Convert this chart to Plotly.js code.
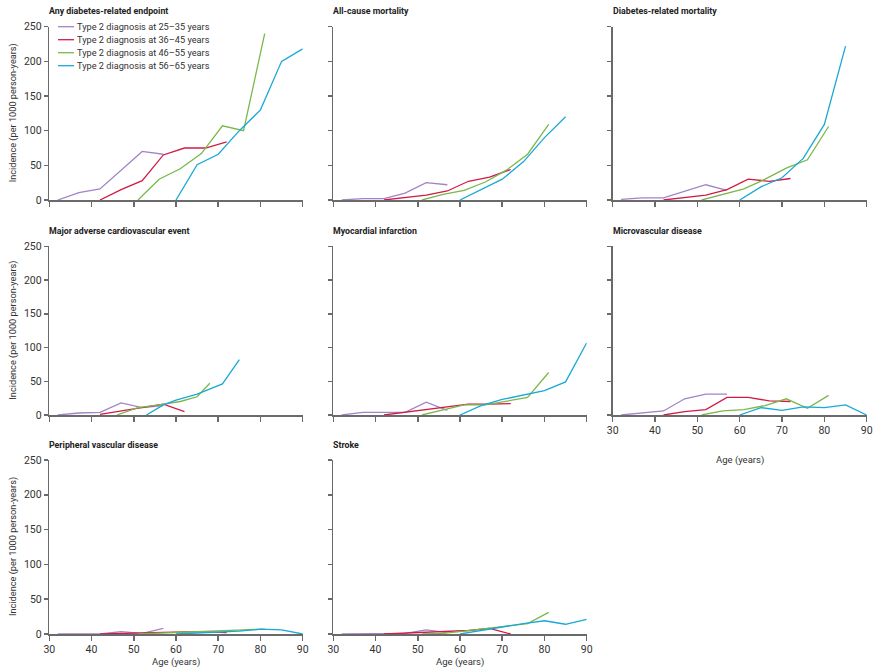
<!DOCTYPE html>
<html>
<head>
<meta charset="utf-8">
<script src="https://cdn.plot.ly/plotly-3.0.1.min.js"></script>
<style>
  html, body { margin: 0; padding: 0; background: #fff; }
  #chart { width: 876px; height: 672px; }
</style>
</head>
<body>
<div id="chart"></div>
<script>
// ---------- Data ----------
const panelTitles = [
  "Any diabetes-related endpoint", "All-cause mortality", "Diabetes-related mortality",
  "Major adverse cardiovascular event", "Myocardial infarction", "Microvascular disease",
  "Peripheral vascular disease", "Stroke"
];
const seriesNames = [
  "Type 2 diagnosis at 25–35 years",
  "Type 2 diagnosis at 36–45 years",
  "Type 2 diagnosis at 46–55 years",
  "Type 2 diagnosis at 56–65 years"
];
const seriesColors = ["#a283c8", "#d01c45", "#7ab84a", "#1aa8d6"];

// ages (years) at which each group's incidence is plotted
const ages2535 = [32, 37, 42, 47, 52, 57];
const ages3645 = [42, 47, 52, 57, 62, 67, 72];
const ages4655 = [51, 56, 61, 66, 71, 76, 81];
const ages5665 = [60, 65, 70, 75, 80, 85, 90];
// MACE panel ages differ
const maceAges3645 = [42, 47, 52, 57, 62];
const maceAges4655 = [46, 51, 56, 61, 65, 68];
const maceAges5665 = [53, 57, 60, 65, 71, 75];

// incidence per 1000 person-years
const anyP = [0, 10.5, 16, 43, 70, 66];
const anyR = [0, 15, 28, 65, 75, 75, 84];
const anyG = [0, 30, 45, 67, 107, 100, 240];
const anyC = [0, 51, 66, 100, 130, 200, 218];

const allP = [0, 2, 2, 10, 25, 22];
const allR = [0, 3, 7, 13, 27, 33, 44];
const allG = [0, 8, 14, 26, 43, 66, 109];
const allC = [0, 15, 30, 55, 90, 120];

const dmP = [1, 3, 3, 12, 22, 14];
const dmR = [0, 4, 7, 15, 30, 27, 31];
const dmG = [0, 8, 16, 30, 46, 58, 106];
const dmC = [0, 19, 32, 60, 109, 222];

const maceP = [0, 3, 4, 18, 11, 14];
const maceR = [1, 6, 11, 16, 5];
const maceG = [0, 11, 15, 20, 27, 47];
const maceC = [0, 15, 22, 31, 46, 82];

const miP = [0, 4, 4, 4, 19, 7];
const miR = [0, 4, 8, 12, 16, 16, 17];
const miG = [0, 8, 15, 15, 20, 26, 63];
const miC = [0, 14, 23, 30, 36, 49, 107];

const mvP = [0, 3, 6, 24, 31, 31];
const mvR = [0, 5, 8, 26, 26, 21, 20];
const mvG = [0, 6, 8, 14, 24, 10, 29];
const mvC = [0, 11, 7, 12, 11, 15, 0];

const pvdP = [0, 0, 0, 3.5, 1, 8];
const pvdR = [0, 1, 2, 3, 3, 3, 2];
const pvdG = [0, 1, 2, 3, 5, 6, 7];
const pvdC = [0, 1, 2, 4, 7, 6, 0];

const strP = [0, 0, 0, 1, 6, 2];
const strR = [0, 1, 2, 4, 5, 8, 0];
const strG = [0, 1, 4, 8, 12, 15, 31];
const strC = [0, 5, 11, 15, 19, 14, 21];

const xTicks = [30, 40, 50, 60, 70, 80, 90];
const yTicks = [0, 50, 100, 150, 200, 250];

const panelSeries = [
  [[ages2535, anyP], [ages3645, anyR], [ages4655, anyG], [ages5665, anyC]],
  [[ages2535, allP], [ages3645, allR], [ages4655, allG], [ages5665, allC]],
  [[ages2535, dmP], [ages3645, dmR], [ages4655, dmG], [ages5665, dmC]],
  [[ages2535, maceP], [maceAges3645, maceR], [maceAges4655, maceG], [maceAges5665, maceC]],
  [[ages2535, miP], [ages3645, miR], [ages4655, miG], [ages5665, miC]],
  [[ages2535, mvP], [ages3645, mvR], [ages4655, mvG], [ages5665, mvC]],
  [[ages2535, pvdP], [ages3645, pvdR], [ages4655, pvdG], [ages5665, pvdC]],
  [[ages2535, strP], [ages3645, strR], [ages4655, strG], [ages5665, strC]]
];

// ---------- Layout geometry (pixels) ----------
const W = 876, H = 672;
const colPx = [[49.3, 302.7], [333.3, 586.7], [612.7, 866.7]];
const rowPx = [[26.7, 200], [246.3, 415], [460, 634]];
const FONT = "'Liberation Sans Narrow', 'Roboto', sans-serif";
const TXT = "#333";
const AXC = "#6a6a6a";

const traces = [];
const layout = {
  width: W, height: H,
  margin: {l: 0, r: 0, t: 0, b: 0},
  paper_bgcolor: "#fff", plot_bgcolor: "#fff",
  showlegend: false,
  font: {family: FONT, size: 10, color: TXT},
  annotations: [], shapes: []
};

const showXLabels = [false, false, false, false, false, true, true, true];
const xTitleY = {1: 460, 2: 662};

panelSeries.forEach((series, i) => {
  const r = Math.floor(i / 3), c = i % 3;
  const n = i + 1;
  const xa = "xaxis" + (n === 1 ? "" : n), ya = "yaxis" + (n === 1 ? "" : n);
  const xr = "x" + (n === 1 ? "" : n), yr = "y" + (n === 1 ? "" : n);
  series.forEach((s, k) => {
    traces.push({
      type: "scatter", mode: "lines",
      x: s[0].slice(0, s[1].length), y: s[1],
      xaxis: xr, yaxis: yr,
      line: {color: seriesColors[k], width: 1.3},
      name: seriesNames[k], hoverinfo: "skip"
    });
  });
  layout[xa] = {
    domain: [colPx[c][0] / W, colPx[c][1] / W],
    range: [30, 90], tickvals: xTicks, ticktext: xTicks.map(String),
    showticklabels: showXLabels[i],
    showgrid: false, zeroline: false,
    showline: true, linecolor: AXC, linewidth: 1.5,
    ticks: "outside", ticklen: 5, tickwidth: 1.5, tickcolor: AXC,
    tickfont: {family: FONT, size: 10.5, color: TXT},
    anchor: yr, fixedrange: true
  };
  layout[ya] = {
    domain: [1 - rowPx[r][1] / H, 1 - rowPx[r][0] / H],
    range: [0, 250], tickvals: yTicks, ticktext: yTicks.map(String),
    showticklabels: c === 0,
    showgrid: false, zeroline: false,
    showline: true, linecolor: AXC, linewidth: 1.5,
    ticks: "outside", ticklen: 4, tickwidth: 1.5, tickcolor: AXC,
    tickfont: {family: FONT, size: 10.5, color: TXT},
    anchor: xr, fixedrange: true
  };
  // panel title
  layout.annotations.push({
    xref: "paper", yref: "paper",
    x: (colPx[c][0] - 2) / W, y: 1 - (rowPx[r][0] - 15.5) / H,
    xanchor: "left", yanchor: "middle", showarrow: false,
    text: "<b>" + panelTitles[i] + "</b>",
    font: {family: FONT, size: 8.8, color: "#222"}
  });
  // y axis title
  if (c === 0) {
    layout.annotations.push({
      xref: "paper", yref: "paper",
      x: 13 / W, y: 1 - ((rowPx[r][0] + rowPx[r][1]) / 2) / H,
      xanchor: "center", yanchor: "middle", showarrow: false, textangle: -90,
      text: "Incidence (per 1000 person-years)",
      font: {family: FONT, size: 9.2, color: TXT}
    });
  }
  // x axis title
  if (showXLabels[i]) {
    layout.annotations.push({
      xref: "paper", yref: "paper",
      x: ((colPx[c][0] + colPx[c][1]) / 2) / W, y: 1 - xTitleY[r] / H,
      xanchor: "center", yanchor: "middle", showarrow: false,
      text: "Age (years)",
      font: {family: FONT, size: 9.5, color: TXT}
    });
  }
});

// legend (panel 1)
const legY = [26.7, 39.7, 52.7, 65.7];
seriesNames.forEach((nm, k) => {
  layout.shapes.push({
    type: "line", xref: "paper", yref: "paper",
    x0: 58 / W, x1: 74 / W, y0: 1 - legY[k] / H, y1: 1 - legY[k] / H,
    line: {color: seriesColors[k], width: 1.3}
  });
  layout.annotations.push({
    xref: "paper", yref: "paper",
    x: 75 / W, y: 1 - legY[k] / H,
    xanchor: "left", yanchor: "middle", showarrow: false,
    text: nm, font: {family: FONT, size: 9.2, color: TXT}
  });
});

Plotly.newPlot("chart", traces, layout, {staticPlot: true, displayModeBar: false});
</script>
</body>
</html>
